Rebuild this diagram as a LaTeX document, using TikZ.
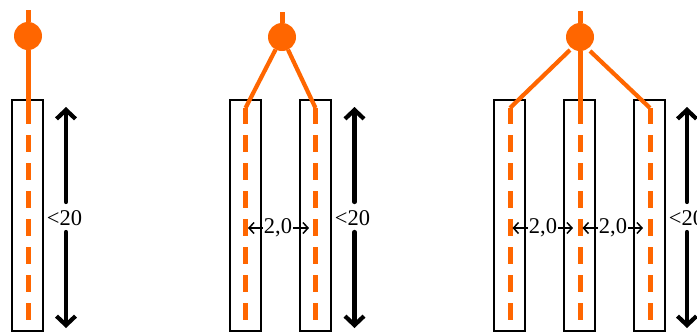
\documentclass[tikz,border=0pt]{standalone}
\usepackage{fontspec}
\setmainfont{Liberation Serif}
\usetikzlibrary{arrows.meta}
\definecolor{wire}{RGB}{255,102,0}
\tikzset{
  tube/.style={draw=black,line width=2pt,fill=none,minimum width=30.5pt,minimum height=231.5pt,inner sep=0pt,outer sep=0pt},
  hub/.style={circle,fill=wire,draw=none,minimum size=28pt,inner sep=0pt,outer sep=0pt},
  wiresolid/.style={draw=wire,line width=5pt},
  wirethin/.style={draw=wire,line width=4.2pt,line join=miter},
  wiredash/.style={draw=wire,line width=5pt,dash pattern=on 17pt off 11pt},
  bigarrow/.style={draw=black,line width=4.2pt,line cap=round,-{Straight Barb[length=9pt,width=19pt,line width=4.2pt]}},
  dimlabel/.style={font=\fontsize{22.5}{24}\selectfont,inner xsep=0pt,inner ysep=7.5pt,outer sep=0pt},
  gaplabel/.style={font=\fontsize{22.5}{24}\selectfont,inner xsep=1pt,inner ysep=0pt,outer sep=0pt},
  gaparrow/.style={draw=black,line width=1.5pt,-{Straight Barb[length=5pt,width=11pt,line width=1.5pt]}}
}
\begin{document}
\begin{tikzpicture}[x=1pt,y=-1pt]
\useasboundingbox (0,0) rectangle (697,333);
% tubes
\node[tube] (t1) at (27.5,215.5) {};
\node[tube] (t2a) at (245.5,215.5) {};
\node[tube] (t2b) at (315.5,215.5) {};
\node[tube] (t3a) at (509.5,215.5) {};
\node[tube] (t3b) at (579.5,215.5) {};
\node[tube] (t3c) at (649.5,215.5) {};
% hubs
\node[hub] (h1) at (28,36) {};
\node[hub] (h2) at (282,37) {};
\node[hub] (h3) at (580,37) {};
% wire tops
\coordinate (h1top) at (28,10);
\coordinate (h2top) at (282,12);
\coordinate (h3top) at (580,11);
\draw[wiresolid] (h1top) -- (h1);
\draw[wiresolid] (h2top) -- (h2);
\draw[wiresolid] (h3top) -- (h3);
% wire coordinates
\foreach \n/\x in {a/28,b/245.5,c/315.5,d/510,e/580,f/650}{
  \coordinate (\n bend) at (\x,108);
  \coordinate (\n end) at (\x,124);
  \coordinate (\n dash) at (\x,135);
  \coordinate (\n low) at (\x,320);
  \draw[wiredash] (\n dash) -- (\n low);
}
\draw[wiresolid] (h1) -- (aend);
\draw[wirethin] (h2) -- (bbend);
\draw[wirethin] (h2) -- (cbend);
\draw[wiresolid] (bbend) -- (bend);
\draw[wiresolid] (cbend) -- (cend);
\draw[wirethin] (h3) ++(-10,13) -- (dbend);
\draw[wiresolid] (h3) -- (eend);
\draw[wirethin] (h3) ++(10,14) -- (fbend);
\draw[wiresolid] (dbend) -- (dend);
\draw[wiresolid] (fbend) -- (fend);
% length labels
\node[dimlabel] (l1) at (64.5,218) {<20};
\node[dimlabel] (l2) at (352.5,218) {<20};
\node[dimlabel] (l3) at (686.5,218) {<20};
\foreach \n/\x in {1/66,2/354.5,3/687}{
  \coordinate (u\n) at (\x,107);
  \coordinate (v\n) at (\x,328);
  \draw[bigarrow] (\x,202) -- (u\n);
  \draw[bigarrow] (\x,232) -- (v\n);
}
% gap labels
\node[gaplabel] (g1) at (278,228) {2,0};
\node[gaplabel] (g2) at (543,228) {2,0};
\node[gaplabel] (g3) at (613,228) {2,0};
\coordinate (g1l) at (248,228);
\coordinate (g1r) at (309,228);
\coordinate (g2l) at (512.5,228);
\coordinate (g2r) at (573,228);
\coordinate (g3l) at (582.5,228);
\coordinate (g3r) at (643,228);
\draw[gaparrow] (g1) -- (g1l);
\draw[gaparrow] (g1) -- (g1r);
\draw[gaparrow] (g2) -- (g2l);
\draw[gaparrow] (g2) -- (g2r);
\draw[gaparrow] (g3) -- (g3l);
\draw[gaparrow] (g3) -- (g3r);
\end{tikzpicture}
\end{document}
